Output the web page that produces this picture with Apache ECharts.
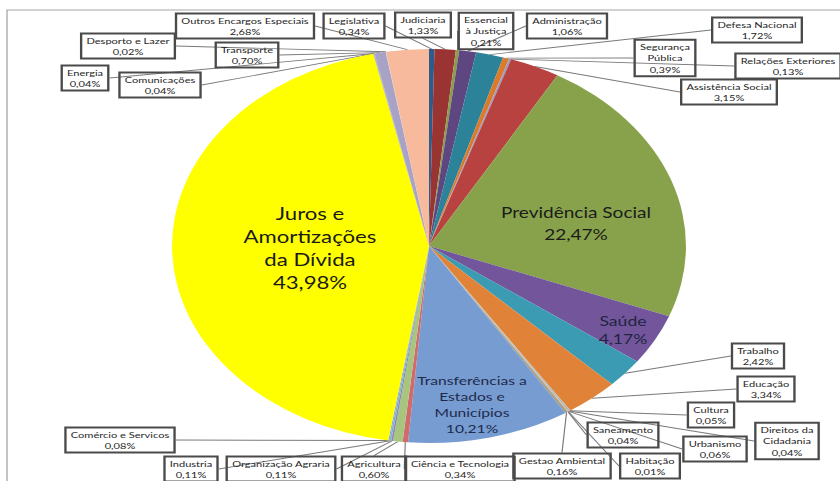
<!DOCTYPE html>
<html><head><meta charset="utf-8">
<script src="https://cdn.jsdelivr.net/npm/echarts@6/dist/echarts.min.js"></script>
<style>
html,body{margin:0;padding:0;background:#fff;overflow:hidden}
#wrap{width:840px;height:481px;overflow:hidden;position:relative;background:#fff}
#chart{position:absolute;left:0;top:0;width:644px;height:481px;transform:scaleX(1.30435);transform-origin:0 0}
</style></head><body><div id="wrap"><div id="chart"></div></div>
<script>
const SX = 840 / 644;

// Categories (label text) in clockwise order from 12 o'clock
const categories = [
  'Legislativa', 'Judiciaria', 'Essencial\nà Justiça', 'Administração', 'Defesa Nacional',
  'Segurança\nPública', 'Relações Exteriores', 'Assistência Social', 'Previdência Social', 'Saúde',
  'Trabalho', 'Educação', 'Cultura', 'Direitos da\nCidadania', 'Urbanismo',
  'Habitação', 'Saneamento', 'Gestao Ambiental', 'Transferências a\nEstados e\nMunicípios', 'Ciência e Tecnologia',
  'Agricultura', 'Organização Agraria', 'Industria', 'Comércio e Servicos', 'Juros e\nAmortizações\nda Dívida',
  'Comunicações', 'Energia', 'Transporte', 'Desporto e Lazer', 'Outros Encargos Especiais'
];

// Share of budget (%)
const values = [
  0.34, 1.33, 0.21, 1.06, 1.72,
  0.39, 0.13, 3.15, 22.47, 4.17,
  2.42, 3.34, 0.05, 0.04, 0.06,
  0.01, 0.04, 0.16, 10.21, 0.34,
  0.60, 0.11, 0.11, 0.08, 43.98,
  0.04, 0.04, 0.70, 0.02, 2.68
];

// Styles (kept apart from data)
const colors = [
  '#2F5A8C', '#993432', '#8B9D4A', '#5E4680', '#2C8399',
  '#DC7A2C', '#9A9CC8', '#B8423F', '#87A24A', '#73559C',
  '#3B9BB3', '#E08339', '#B5C88D', '#9C94C0', '#B3B3B3',
  '#D0D0D0', '#C4A37E', '#A89E84', '#779CD2', '#D16B6B',
  '#A8C580', '#9083B0', '#7CB5C9', '#8FA9D0', '#FFFF00',
  '#A4A4C8', '#9A9AC0', '#A7A2C6', '#C8C8C8', '#F8BA9C'
];

// Label centre positions in page pixels (layout only)
const labelPos = [
  [354, 26], [423, 25], [486, 31], [567, 26], [757, 30],
  [665, 58], [788, 66], [729, 92], [576, 223], [623, 330],
  [758, 356], [766, 389], [711, 415], [787, 441], [715, 449],
  [650, 466], [623, 435], [562, 466], [472, 404], [460, 469],
  [374, 469], [281, 469], [191, 469], [120, 440], [310, 248],
  [160, 85], [85, 78], [247, 55], [128, 46], [245, 26]
];

const innerStyle = {
  8:  {fontSize: 14.6, lineHeight: 22, color: '#1c1c1c'},
  9:  {fontSize: 13.5, lineHeight: 18, color: '#1f2540'},
  18: {fontSize: 12, lineHeight: 16, color: '#1f2a4a'},
  24: {fontSize: 17, lineHeight: 23, color: '#1a1a1a'}
};

const fmt = v => v.toFixed(2).replace('.', ',') + '%';

const data = values.map((v, i) => {
  const item = {name: categories[i], value: v, itemStyle: {color: colors[i]}};
  if (innerStyle[i]) {
    const st = Object.assign({fontFamily: 'Lato', textBorderWidth: 0, align: 'center'}, innerStyle[i]);
    item.label = {
      position: 'inside', backgroundColor: 'transparent', borderWidth: 0, padding: 0,
      textBorderWidth: 0, color: innerStyle[i].color,
      formatter: p => p.name.split('\n').concat([fmt(p.value)]).map(s => '{t|' + s + '}').join('\n'),
      rich: {t: st}
    };
    item.labelLine = {show: false};
  }
  return item;
});

const chart = echarts.init(document.getElementById('chart'), null, {renderer: 'svg'});
chart.setOption({
  backgroundColor: '#fff',
  animation: false,
  graphic: [{
    type: 'rect', shape: {x: 7 / SX, y: 10, width: 700, height: 520},
    style: {fill: 'none', stroke: '#a6a6a6', lineWidth: 1}, silent: true, z: -10
  }],
  series: [{
    type: 'pie',
    center: [429 / SX, 246],
    radius: 197,
    startAngle: 90,
    clockwise: true,
    avoidLabelOverlap: false,
    data: data,
    itemStyle: {borderWidth: 0},
    label: {
      show: true,
      position: 'outside',
      formatter: p => p.name + '\n' + fmt(p.value),
      fontFamily: 'Lato',
      fontSize: 8.5,
      lineHeight: 11.5,
      color: '#262626',
      align: 'center',
      borderColor: '#4a4a4a',
      borderWidth: 0.9,
      padding: [1, 4, 1, 4],
      backgroundColor: 'transparent'
    },
    labelLine: {show: true, length: 8, length2: 0, lineStyle: {color: '#7a7a7a', width: 0.9}},
    labelLayout: function (params) {
      const p = labelPos[params.dataIndex];
      return {x: p[0] / SX, y: p[1], align: 'center', verticalAlign: 'middle'};
    },
    emphasis: {disabled: true}
  }]
});
</script></body></html>
